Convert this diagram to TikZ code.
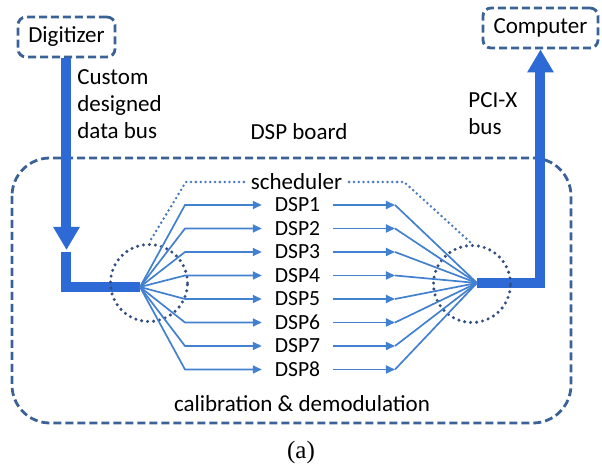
\documentclass[tikz,border=0pt]{standalone}
\usepackage{fontspec}
\setmainfont{Carlito}
\newfontfamily\capfont{Liberation Serif}
\usetikzlibrary{arrows.meta}

\definecolor{busblue}{RGB}{46,106,214}
\definecolor{linkblue}{RGB}{66,128,208}
\definecolor{dashblue}{RGB}{58,98,150}
\definecolor{dotblue}{RGB}{52,78,128}
\definecolor{ctrlblue}{RGB}{72,122,192}

\begin{document}
\begin{tikzpicture}[x=0.5pt,y=-0.5pt,font=\fontsize{11.5}{13.5}\selectfont,
  unit/.style={draw=dashblue,line width=1.4pt,dash pattern=on 4pt off 2pt,rounded corners=4pt,
    minimum width=48.5pt,minimum height=20pt,inner sep=2pt},
  board/.style={draw=dashblue,line width=1.4pt,dash pattern=on 4pt off 2pt,rounded corners=19pt},
  bus/.style={draw=busblue,line width=5pt},
  bushead/.style={-{Triangle[width=12.5pt,length=11.5pt]}},
  link/.style={draw=linkblue,line width=0.85pt},
  linkhead/.style={-{Triangle[width=4pt,length=4.5pt]}},
  ring/.style={circle,draw=dotblue,line width=1.7pt,dash pattern=on 0pt off 3pt,line cap=round,
    minimum size=38.5pt,inner sep=0pt},
  ctrl/.style={draw=ctrlblue,line width=1.4pt,dash pattern=on 0pt off 2.4pt,line cap=round},
  note/.style={align=left,anchor=west,inner sep=0pt},
  dsp/.style={font=\fontsize{10.8}{13}\selectfont}]
  \useasboundingbox (0,0) rectangle (602,470);

  % end units and the board
  \node[unit] (dig) at (66.5,37) {Digitizer};
  \node[unit,minimum width=57.5pt] (comp) at (540.5,28) {Computer};
  \draw[board] (12,158) rectangle (571,423);
  \node (brd) at (299,132) {DSP board};
  \node[note] (cdb) at (77,104) {Custom\\designed\\data bus};
  \node[note] (pci) at (468,114) {PCI-X\\bus};

  % thick buses
  \coordinate (din) at (66.5,250);
  \coordinate (lin) at (66.5,252);
  \coordinate (lfan) at (140,287);
  \coordinate (rfan) at (477,283);
  \draw[bus,bushead] (dig.south) -- (din);
  \draw[bus] (lin) |- (lfan);
  \draw[bus,bushead] (rfan) -| (comp.south);

  % fan-out / fan-in circles and the scheduler
  \node[ring] (lc) at (149,283) {};
  \node[ring] (rc) at (472,284) {};
  \node (sch) at (296.5,182) {scheduler};
  \draw[ctrl] (sch.west) -- ++(-58,0) -- (lc.north);
  \draw[ctrl] (sch.east) -- ++(55,0) -- (rc.north);

  % the eight DSPs
  \foreach \i in {1,...,8}{
    \pgfmathsetmacro\ry{205+23.5*(\i-1)}
    \node[dsp] (dsp\i) at (297.5,\ry) {DSP\i};
    \draw[link,linkhead] (lfan) -- (185,\ry) -- ([xshift=-3pt]dsp\i.west);
    \draw[link,linkhead] ([xshift=3pt]dsp\i.east) -- (395,\ry);
    \draw[link] (395,\ry) -- (rfan);
  }

  \node (cal) at (302,404) {calibration \& demodulation};
  \node[font=\capfont\fontsize{12.5}{14}\selectfont] (cap) at (301,452) {(a)};
\end{tikzpicture}
\end{document}
